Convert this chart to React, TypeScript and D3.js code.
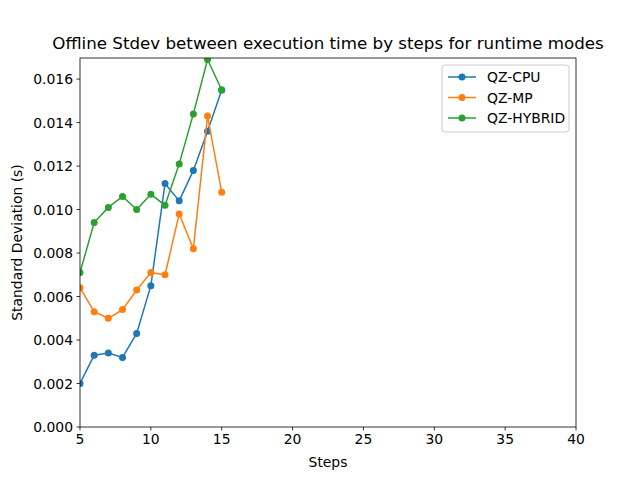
import React from "react";
import * as d3 from "d3";

const steps = [5, 6, 7, 8, 9, 10, 11, 12, 13, 14, 15];
const cpu = [0.002, 0.0033, 0.0034, 0.0032, 0.0043, 0.0065, 0.0112, 0.0104, 0.0118, 0.0136, 0.0155];
const mp = [0.0064, 0.0053, 0.005, 0.0054, 0.0063, 0.0071, 0.007, 0.0098, 0.0082, 0.0143, 0.0108];
const hybrid = [0.0071, 0.0094, 0.0101, 0.0106, 0.01, 0.0107, 0.0102, 0.0121, 0.0144, 0.0169, 0.0155];
const seriesNames = ["QZ-CPU", "QZ-MP", "QZ-HYBRID"];
const colors = ["#1f77b4", "#ff7f0e", "#2ca02c"];
const xTicks = [5, 10, 15, 20, 25, 30, 35, 40];
const yTicks = [0, 0.002, 0.004, 0.006, 0.008, 0.01, 0.012, 0.014, 0.016];

export default function App() {
  const L = 80, R = 576, T = 58, B = 427;
  const x = d3.scaleLinear().domain([5, 40]).range([L, R]);
  const y = d3.scaleLinear().domain([0, 0.01697]).range([B, T]);
  const all = [cpu, mp, hybrid];
  const line = d3.line<number>().x((_, i) => x(steps[i])).y((d) => y(d));
  const font = "DejaVu Sans, sans-serif";
  return (
    <svg width={640} height={480} style={{ position: "absolute", left: 0, top: 0 }} fontFamily={font}>
      <rect width={640} height={480} fill="white" />
      <defs>
        <clipPath id="c"><rect x={L} y={T} width={R - L} height={B - T} /></clipPath>
      </defs>
      <g clipPath="url(#c)">
        {all.map((s, k) => (
          <g key={k}>
            <path d={line(s)!} fill="none" stroke={colors[k]} strokeWidth={1.5} />
            {s.map((v, i) => <circle key={i} cx={x(steps[i])} cy={y(v)} r={3.5} fill={colors[k]} />)}
          </g>
        ))}
      </g>
      <rect x={L} y={T} width={R - L} height={B - T} fill="none" stroke="black" strokeWidth={0.8} />
      {xTicks.map((t) => (
        <g key={t}>
          <line x1={x(t)} x2={x(t)} y1={B} y2={B + 3.5} stroke="black" strokeWidth={0.8} />
          <text x={x(t)} y={B + 17} fontSize={13.9} textAnchor="middle">{t}</text>
        </g>
      ))}
      {yTicks.map((t) => (
        <g key={t}>
          <line x1={L - 3.5} x2={L} y1={y(t)} y2={y(t)} stroke="black" strokeWidth={0.8} />
          <text x={L - 7} y={y(t) + 5} fontSize={13.9} textAnchor="end">{t.toFixed(3)}</text>
        </g>
      ))}
      <text x={(L + R) / 2} y={467} fontSize={13.9} textAnchor="middle">Steps</text>
      <text transform={`translate(22,${(T + B) / 2}) rotate(-90)`} fontSize={13.9} textAnchor="middle">Standard Deviation (s)</text>
      <text x={(L + R) / 2} y={49} fontSize={16.7} textAnchor="middle">Offline Stdev between execution time by steps for runtime modes</text>
      <rect x={442} y={65} width={127} height={67} rx={3} fill="white" stroke="#cccccc" strokeWidth={1} />
      {seriesNames.map((n, k) => (
        <g key={n}>
          <line x1={448} x2={476} y1={77 + k * 20.5} y2={77 + k * 20.5} stroke={colors[k]} strokeWidth={1.5} />
          <circle cx={462} cy={77 + k * 20.5} r={3.5} fill={colors[k]} />
          <text x={487} y={82 + k * 20.5} fontSize={13.9}>{n}</text>
        </g>
      ))}
    </svg>
  );
}
